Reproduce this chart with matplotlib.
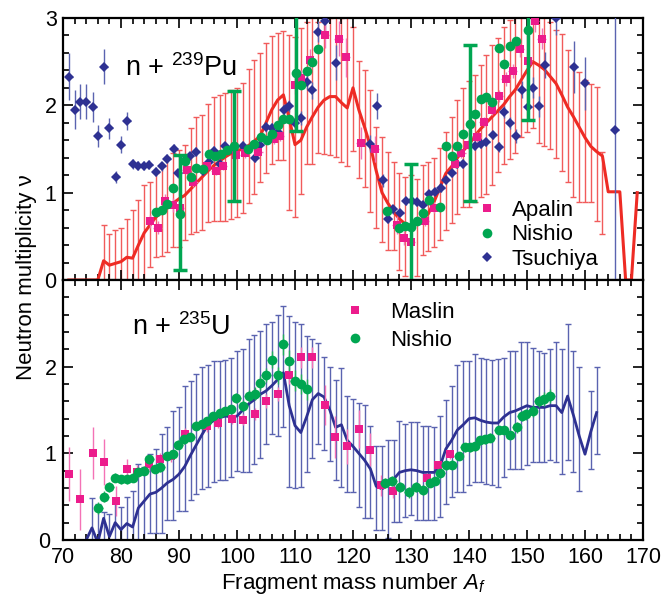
import numpy as np
import matplotlib.pyplot as plt
from matplotlib.lines import Line2D
from matplotlib.ticker import MultipleLocator

plt.rcParams['font.family'] = ['Liberation Sans', 'DejaVu Sans']
plt.rcParams['mathtext.fontset'] = 'custom'
plt.rcParams['mathtext.rm'] = 'Liberation Sans'
plt.rcParams['mathtext.it'] = 'Liberation Sans:italic'

# ---------------- n + 239Pu : model (red line + bars) ----------------
pu_model_A = list(range(71, 170))
pu_model_nu = [0, 0, 0, 0, 0, 0,
               0.22, 0.17, 0.19, 0.21, 0.26, 0.25, 0.40, 0.54, 0.63, 0.72,
               0.77, 0.83, 0.88, 0.93, 0.97, 1.04, 1.11, 1.18, 1.25, 1.31,
               1.36, 1.41, 1.45, 1.47, 1.51, 1.54, 1.59, 1.65, 1.80, 1.95,
               2.06, 2.12, 1.85, 1.55, 1.60, 1.75, 1.87, 1.98, 2.06, 2.10,
               2.10, 2.03, 1.97, 2.20, 1.95, 1.75, 1.53, 1.25, 1.00, 0.88,
               0.78, 0.70, 0.64, 0.61, 0.65, 0.70, 0.76, 0.90, 1.06, 1.22,
               1.30, 1.40, 1.48, 1.55, 1.65, 1.73, 1.80, 1.87, 1.94, 2.01,
               2.10, 2.18, 2.29, 2.40, 2.50, 2.46, 2.41, 2.33, 2.25, 2.12,
               1.98, 1.87, 1.75, 1.63, 1.53, 1.47, 1.42, 1.01, 1.01, 1.01,
               0.0, 0.0, 1.0]

pu_bar_A = list(range(77, 164))
pu_bar_hi = [0.63, 0.53, 0.57, 0.60, 0.70, 0.80, 0.92, 1.09, 1.12, 1.22,
             1.30, 1.41, 1.45, 1.49, 1.55, 1.74, 1.87, 1.89, 2.02, 2.10,
             2.12, 2.14, 2.18, 2.20, 2.25, 2.42, 2.52, 2.60, 2.71, 2.79,
             2.83, 2.85, 2.80, 2.78, 2.88, 2.95, 3.05, 2.95, 3.10, 3.00,
             3.10, 3.00, 3.05, 2.90, 2.51, 2.41, 2.17, 1.75, 1.64, 1.47,
             1.35, 1.23, 1.18, 1.20, 1.16, 1.32, 1.35, 1.40, 1.51, 1.70,
             1.87, 2.06, 2.20, 2.28, 2.35, 2.46, 2.58, 2.69, 2.77, 2.90,
             2.98, 3.05, 3.10, 3.15, 3.20, 3.20, 3.10, 2.95, 2.86, 2.82,
             2.63, 2.46, 2.38, 2.29, 2.24, 2.21, 1.47]
pu_bar_lo = [-0.2, -0.2, -0.2, -0.2, -0.2, -0.2, -0.15, -0.05, 0.15, 0.26,
             0.28, 0.32, 0.38, 0.38, 0.46, 0.53, 0.55, 0.57, 0.66, 0.68,
             0.68, 0.68, 0.70, 0.72, 0.77, 0.88, 0.99, 1.12, 1.22, 1.33,
             1.37, 1.37, 0.80, 0.72, 0.99, 1.33, 1.33, 1.45, 1.44, 1.43,
             1.41, 1.35, 1.30, 1.48, 1.17, 1.07, 0.78, 0.59, 0.43, 0.34,
             0.34, 0.12, 0.04, -0.05, 0.04, 0.29, 0.33, 0.38, 0.46, 0.57,
             0.65, 0.76, 0.84, 0.84, 0.89, 0.95, 0.99, 1.09, 1.24, 1.33,
             1.39, 1.45, 1.64, 1.70, 1.74, 1.57, 1.53, 1.50, 1.40, 1.25,
             1.12, 0.95, 0.89, 0.89, 0.89, 0.67, 0.53]

# ---------------- n + 239Pu : data ----------------
apalin_A = [85.0, 86.3, 87.6, 89.0, 90.1, 91.3, 92.5, 94.8, 96.3, 97.6,
            99.9, 101.4, 103.7, 106.3, 107.4, 110.0, 111.1, 112.6, 115.2, 117.5,
            118.8, 121.3, 123.8, 127.5, 128.8, 130.0, 132.4, 133.9, 137.6, 138.7,
            139.9, 141.3, 142.5, 143.9, 145.1, 146.3, 147.5, 148.8, 150.1, 151.4,
            152.5]
apalin_nu = [0.67, 0.60, 0.90, 0.86, 0.82, 1.26, 1.12, 1.31, 1.25, 1.31,
             1.43, 1.45, 1.47, 1.62, 1.65, 2.23, 2.31, 2.52, 2.81, 2.76,
             2.55, 1.57, 1.50, 0.63, 0.48, 0.43, 0.68, 0.83, 1.33, 1.45,
             1.55, 1.64, 1.81, 1.95, 2.11, 2.30, 2.39, 2.65, 2.51, 2.96,
             2.76]
apalin_err = [0.07, 0.07, 0.08, 0.08, 0.06, 0.06, 0.06, 0.05, 0.05, 0.05,
              0.05, 0.05, 0.06, 0.06, 0.06, 0.10, 0.10, 0.12, 0.15, 0.20,
              0.22, 0.18, 0.15, 0.10, 0.08, 0.08, 0.06, 0.06, 0.05, 0.05,
              0.05, 0.06, 0.06, 0.06, 0.07, 0.08, 0.08, 0.10, 0.10, 0.12,
              0.12]

nishio_pu_A = [86.0, 87.0, 88.0, 89.0, 90.2, 91.0, 92.0, 93.0, 94.1, 95.1,
               96.2, 97.2, 98.2, 99.5, 101.9, 102.9, 104.1, 105.1, 106.1, 107.1,
               108.0, 109.0, 110.1, 111.0, 112.0, 113.0, 114.0, 125.9, 128.0, 128.9,
               130.0, 131.1, 132.1, 133.1, 135.0, 136.0, 137.0, 138.0, 139.0, 140.1,
               141.0, 142.0, 143.0, 144.0, 145.1, 146.0, 147.1, 148.1, 150.1]
nishio_pu_nu = [0.78, 0.80, 0.87, 1.05, 0.76, 1.36, 1.18, 1.28, 1.27, 1.44,
                1.42, 1.44, 1.49, 1.53, 1.50, 1.56, 1.64, 1.60, 1.67, 1.77,
                1.84, 1.84, 2.37, 2.23, 2.39, 2.50, 2.64, 0.79, 0.59, 0.62,
                0.61, 0.67, 0.77, 0.92, 0.84, 1.53, 1.42, 1.53, 1.67, 1.79,
                1.90, 2.07, 2.10, 2.04, 2.66, 2.47, 2.68, 2.74, 2.86]
# large representative error bars of the Nishio data
nishio_pu_big_A = [90.2, 99.5, 110.1, 130.0, 140.1, 150.1]
nishio_pu_big_lo = [0.11, 0.90, 1.71, -0.05, 0.90, 1.83]
nishio_pu_big_hi = [1.43, 2.16, 3.10, 1.33, 2.69, 3.10]

tsuchiya_A = [71.0, 72.1, 72.9, 74.0, 75.1, 76.1, 77.0, 78.0, 79.1, 80.0,
              81.1, 82.1, 83.0, 83.9, 84.8, 86.0, 87.1, 88.0, 89.1, 89.9,
              91.0, 91.9, 92.9, 94.1, 95.1, 96.0, 97.1, 98.0, 99.3, 101.1,
              103.1, 104.0, 105.0, 106.1, 107.1, 108.1, 109.0, 110.0, 111.0, 112.0,
              113.0, 114.0, 115.1, 117.1, 123.0, 124.1, 125.1, 126.1, 126.9, 128.1,
              129.1, 130.1, 131.1, 132.1, 133.1, 134.1, 135.1, 136.1, 137.0, 138.0,
              139.0, 141.0, 142.0, 143.0, 144.1, 145.1, 146.0, 147.1, 148.1, 149.1,
              150.1, 151.1, 152.1, 153.1, 155.0, 158.1, 160.0, 165.2]
tsuchiya_nu = [2.33, 1.95, 2.04, 2.04, 1.98, 1.65, 2.44, 1.74, 1.18, 1.55,
               1.82, 1.33, 1.31, 1.31, 1.32, 1.24, 1.30, 1.39, 1.50, 1.22,
               1.37, 1.42, 1.47, 1.25, 1.35, 1.48, 1.33, 1.53, 1.49, 1.54,
               1.40, 1.55, 1.75, 1.74, 1.70, 1.95, 1.99, 1.80, 1.86, 2.27,
               2.17, 2.84, 2.96, 2.49, 1.56, 1.99, 1.14, 0.70, 0.81, 0.77,
               0.90, 0.90, 0.89, 0.86, 0.98, 1.01, 1.05, 1.14, 1.22, 1.33,
               1.33, 1.54, 1.56, 1.58, 1.66, 1.52, 1.92, 1.80, 1.65, 2.18,
               1.98, 2.20, 1.99, 2.46, 3.00, 2.44, 2.25, 1.72]
tsuchiya_err = [0.27, 0.22, 0.20, 0.20, 0.17, 0.13, 0.20, 0.12, 0.07, 0.10,
                0.10, 0.06, 0.05, 0.05, 0.05, 0.05, 0.05, 0.05, 0.06, 0.05,
                0.05, 0.05, 0.05, 0.05, 0.05, 0.05, 0.05, 0.05, 0.05, 0.05,
                0.05, 0.05, 0.06, 0.06, 0.06, 0.06, 0.07, 0.07, 0.08, 0.08,
                0.10, 0.12, 0.12, 0.20, 0.10, 0.15, 0.07, 0.05, 0.05, 0.04,
                0.04, 0.04, 0.04, 0.04, 0.04, 0.04, 0.04, 0.04, 0.04, 0.05,
                0.05, 0.05, 0.05, 0.05, 0.05, 0.06, 0.07, 0.07, 0.08, 0.10,
                0.10, 0.12, 0.12, 0.15, 0.20, 0.30, 0.30, 3.00]

# ---------------- n + 235U : model (blue line + bars) ----------------
u_model_A = list(range(74, 163))
u_model_nu = [0.00, 0.14, -0.03, 0.25, 0.04, 0.20, 0.12, 0.19, 0.15, 0.37,
              0.45, 0.53, 0.55, 0.60, 0.66, 0.70, 0.76, 0.85, 0.98, 1.10,
              1.22, 1.33, 1.38, 1.41, 1.43, 1.42, 1.43, 1.50, 1.57, 1.62,
              1.68, 1.72, 1.78, 1.85, 1.93, 1.55, 1.32, 1.24, 1.42, 1.62,
              1.69, 1.65, 1.50, 1.30, 1.33, 1.15, 1.08, 1.00, 0.92, 0.82,
              0.62, 0.59, 0.63, 0.70, 0.78, 0.80, 0.81, 0.80, 0.78, 0.78,
              0.78, 0.85, 1.05, 1.15, 1.27, 1.33, 1.40, 1.41, 1.38, 1.36,
              1.35, 1.35, 1.42, 1.47, 1.49, 1.52, 1.55, 1.53, 1.53, 1.53,
              1.55, 1.55, 1.47, 1.66, 1.44, 1.20, 0.99, 1.25, 1.47]

u_bar_A = list(range(75, 160)) + [161, 162]
u_bar_hi = [0.48, 0.42, 0.32, 0.30, 0.46, 0.38, 0.50, 0.57, 0.88, 0.84,
            0.99, 1.05, 1.22, 1.30, 1.49, 1.53, 1.78, 1.83, 1.91, 2.00,
            2.02, 2.06, 2.06, 2.08, 2.10, 2.18, 2.20, 2.32, 2.37, 2.41,
            2.49, 2.51, 2.60, 2.70, 2.58, 2.52, 2.49, 2.35, 2.32, 2.27,
            2.11, 2.00, 1.85, 1.98, 1.66, 1.63, 1.58, 1.56, 1.32, 1.09,
            1.09, 1.15, 1.15, 1.37, 1.34, 1.36, 1.36, 1.32, 1.32, 1.30,
            1.43, 1.62, 1.78, 2.02, 2.06, 2.06, 2.15, 2.10, 2.09, 2.08,
            2.09, 2.10, 2.18, 2.18, 2.28, 2.28, 2.22, 2.18, 2.16, 2.20,
            2.28, 2.20, 2.49, 2.18, 2.00, 1.72, 2.00]
u_bar_lo = [-0.1, -0.1, -0.1, -0.1, -0.1, -0.1, -0.1, -0.1, -0.1, -0.05,
            0.08, 0.08, 0.08, 0.23, 0.23, 0.34, 0.34, 0.46, 0.53, 0.59,
            0.61, 0.67, 0.69, 0.69, 0.73, 0.80, 0.79, 0.78, 0.88, 0.95,
            1.11, 1.22, 1.20, 1.30, 0.61, 0.60, 0.61, 0.79, 0.95, 1.11,
            1.04, 0.91, 0.69, 0.61, 0.55, 0.55, 0.38, 0.25, 0.25, 0.12,
            0.12, 0.02, 0.21, 0.21, 0.27, 0.29, 0.23, 0.23, 0.23, 0.23,
            0.27, 0.42, 0.50, 0.55, 0.55, 0.63, 0.67, 0.67, 0.65, 0.63,
            0.61, 0.73, 0.82, 0.82, 0.82, 0.86, 0.90, 0.90, 0.90, 0.92,
            0.90, 0.76, 0.92, 0.78, 0.57, 0.82, 0.99]

# ---------------- n + 235U : data ----------------
maslin_A = [71.0, 73.0, 75.1, 77.0, 79.1, 81.0, 82.8, 84.9, 86.7, 88.7,
            91.0, 94.8, 96.8, 99.1, 101.1, 103.1, 105.0, 107.1, 109.0, 111.0,
            113.0, 115.1, 116.9, 118.9, 121.0, 123.0, 124.9, 126.9, 132.7, 134.6,
            136.7]
maslin_nu = [0.76, 0.47, 1.00, 0.90, 0.45, 0.82, 0.79, 0.88, 0.93, 0.97,
             1.22, 1.31, 1.35, 1.40, 1.39, 1.45, 1.60, 1.68, 1.90, 2.11,
             2.11, 1.56, 1.19, 1.08, 1.28, 1.04, 0.63, 0.57, 0.72, 0.86,
             0.99]
maslin_err = [0.31, 0.35, 0.30, 0.27, 0.17, 0.12, 0.08, 0.07, 0.07, 0.07,
              0.07, 0.06, 0.06, 0.06, 0.06, 0.07, 0.08, 0.08, 0.10, 0.12,
              0.12, 0.23, 0.24, 0.20, 0.22, 0.19, 0.12, 0.08, 0.05, 0.05,
              0.05]

nishio_u_A = [76.1, 77.1, 78.0, 79.0, 80.0, 81.0, 82.0, 83.0, 84.0, 84.9,
              85.9, 86.8, 87.9, 88.9, 89.9, 90.9, 91.9, 92.9, 93.9, 94.9,
              95.9, 97.0, 98.0, 98.9, 99.9, 101.1, 102.0, 103.1, 104.0, 105.0,
              106.0, 107.0, 108.0, 109.0, 110.0, 111.0, 112.0, 125.5, 126.7, 128.1,
              129.6, 130.8, 132.0, 133.3, 134.1, 135.0, 136.0, 137.1, 138.2, 139.3,
              140.2, 141.0, 141.9, 142.8, 143.6, 145.1, 146.0, 147.1, 148.2, 149.1,
              149.9, 151.0, 152.0, 152.9, 154.0]
nishio_u_nu = [0.37, 0.50, 0.61, 0.72, 0.70, 0.70, 0.72, 0.78, 0.80, 0.93,
               0.82, 0.84, 0.97, 0.99, 1.10, 1.16, 1.19, 1.32, 1.34, 1.37,
               1.43, 1.46, 1.49, 1.51, 1.64, 1.55, 1.66, 1.69, 1.81, 1.90,
               2.08, 1.90, 2.26, 2.07, 1.84, 1.80, 1.74, 0.66, 0.68, 0.61,
               0.55, 0.61, 0.58, 0.66, 0.68, 0.77, 0.86, 0.87, 0.97, 1.07,
               1.07, 1.08, 1.15, 1.16, 1.18, 1.27, 1.27, 1.21, 1.30, 1.43,
               1.45, 1.49, 1.60, 1.63, 1.66]
nishio_u_err = [0.07, 0.06, 0.06, 0.05, 0.05, 0.05, 0.05, 0.05, 0.05, 0.05,
                0.05, 0.05, 0.05, 0.05, 0.05, 0.05, 0.05, 0.05, 0.05, 0.05,
                0.05, 0.05, 0.05, 0.05, 0.06, 0.06, 0.07, 0.07, 0.08, 0.08,
                0.10, 0.10, 0.12, 0.12, 0.12, 0.12, 0.12, 0.06, 0.06, 0.06,
                0.06, 0.06, 0.06, 0.05, 0.05, 0.05, 0.05, 0.05, 0.05, 0.05,
                0.05, 0.05, 0.05, 0.05, 0.05, 0.05, 0.05, 0.05, 0.06, 0.06,
                0.06, 0.07, 0.07, 0.08, 0.08]

red = '#ee2b24'
red_bar = '#f15b5b'
navy = '#2e3192'
navy_bar = '#5a63b0'
magenta = '#ec1c8c'
pink_bar = '#f472b6'
green = '#00a651'
green_bar = '#22b05a'

fig = plt.figure(figsize=(6.61, 6.02), dpi=100)
ax1 = fig.add_axes([0.0953, 0.5349, 0.8775, 0.4352])
ax2 = fig.add_axes([0.0953, 0.1030, 0.8775, 0.4319])

# ---- top panel: Pu ----
lo = np.array(pu_bar_lo)
hi = np.array(pu_bar_hi)
ax1.errorbar(pu_bar_A, (lo + hi) / 2, yerr=(hi - lo) / 2, fmt='none',
             ecolor=red_bar, elinewidth=1.0, capsize=2.5, capthick=1.0, zorder=1)
ax1.plot(pu_model_A, pu_model_nu, color=red, lw=2.2, zorder=2)

ax1.errorbar(tsuchiya_A, tsuchiya_nu, xerr=0.7, yerr=tsuchiya_err, fmt='D',
             color=navy, ms=5.5, mew=0, ecolor=navy_bar, elinewidth=1.0,
             capsize=3, capthick=1.0, zorder=3)
ax1.errorbar(apalin_A, apalin_nu, xerr=0.7, yerr=apalin_err, fmt='s',
             color=magenta, ms=6, mew=0, ecolor=pink_bar, elinewidth=1.0,
             capsize=3, capthick=1.0, zorder=3)
ax1.errorbar(nishio_pu_A, nishio_pu_nu, fmt='o', color=green, ms=7, mew=0, zorder=4)
blo = np.array(nishio_pu_big_lo)
bhi = np.array(nishio_pu_big_hi)
ax1.errorbar(nishio_pu_big_A, (blo + bhi) / 2, yerr=(bhi - blo) / 2, fmt='none',
             ecolor=green, elinewidth=2.5, capsize=5, capthick=2.5, zorder=4)

ax1.text(0.107, 0.779, 'n + $^{239}$Pu', transform=ax1.transAxes,
         fontsize=19.5, va='baseline', ha='left')

h1 = [Line2D([], [], marker='s', color=magenta, ls='none', ms=6, mew=0),
      Line2D([], [], marker='o', color=green, ls='none', ms=7, mew=0),
      Line2D([], [], marker='D', color=navy, ls='none', ms=5.5, mew=0)]
ax1.legend(h1, ['Apalin', 'Nishio', 'Tsuchiya'], loc='center left',
           bbox_to_anchor=(0.712, 0.172), frameon=False, fontsize=16,
           borderpad=0, borderaxespad=0, handlelength=1.0, handletextpad=0.6,
           labelspacing=0.15)

# ---- bottom panel: U ----
lo = np.array(u_bar_lo)
hi = np.array(u_bar_hi)
ax2.errorbar(u_bar_A, (lo + hi) / 2, yerr=(hi - lo) / 2, fmt='none',
             ecolor=navy_bar, elinewidth=1.0, capsize=2.5, capthick=1.0, zorder=1)
ax2.plot(u_model_A, u_model_nu, color=navy, lw=2.0, zorder=2)

ax2.errorbar(maslin_A, maslin_nu, yerr=maslin_err, fmt='s', color=magenta,
             ms=6, mew=0, ecolor=pink_bar, elinewidth=1.0, capsize=5,
             capthick=1.0, zorder=3)
ax2.errorbar(nishio_u_A, nishio_u_nu, xerr=0.8, yerr=nishio_u_err, fmt='o',
             color=green, ms=7, mew=0, ecolor=green_bar, elinewidth=1.0,
             capsize=3, capthick=1.0, zorder=4)

ax2.text(0.119, 0.788, 'n + $^{235}$U', transform=ax2.transAxes,
         fontsize=19.5, va='baseline', ha='left')

h2 = [Line2D([], [], marker='s', color=magenta, ls='none', ms=6, mew=0),
      Line2D([], [], marker='o', color=green, ls='none', ms=7, mew=0)]
ax2.legend(h2, ['Maslin', 'Nishio'], loc='center left',
           bbox_to_anchor=(0.484, 0.821), frameon=False, fontsize=16,
           borderpad=0, borderaxespad=0, handlelength=1.0, handletextpad=1.1,
           labelspacing=0.3)

for ax in (ax1, ax2):
    ax.set_xlim(70, 170)
    ax.set_ylim(0, 3)
    ax.set_xticks(range(70, 171, 10))
    ax.xaxis.set_minor_locator(MultipleLocator(2))
    ax.yaxis.set_minor_locator(MultipleLocator(0.2))
    ax.tick_params(which='both', direction='in', top=True, right=True,
                   labelsize=15.5, width=1.2)
    ax.tick_params(which='major', length=7)
    ax.tick_params(which='minor', length=4)
    ax.tick_params(axis='x', pad=5)
    ax.tick_params(axis='y', pad=4.5)
    for s in ax.spines.values():
        s.set_linewidth(1.6)

ax1.set_yticks([0, 1, 2, 3])
ax1.tick_params(labelbottom=False)
ax2.set_yticks([0, 1, 2, 3])
ax2.set_yticklabels(['0', '1', '2', ''])
# keep the lowest "0" clear of the "70" below it
ax2.yaxis.get_major_ticks()[0].set_pad(9)

ax2.set_xlabel('Fragment mass number $A_f$', fontsize=16, labelpad=2)
fig.text(27 / 661, 1 - 277 / 602, 'Neutron multiplicity ν', rotation=90,
         ha='center', va='center', fontsize=16)

fig.savefig('out.png', dpi=100)
